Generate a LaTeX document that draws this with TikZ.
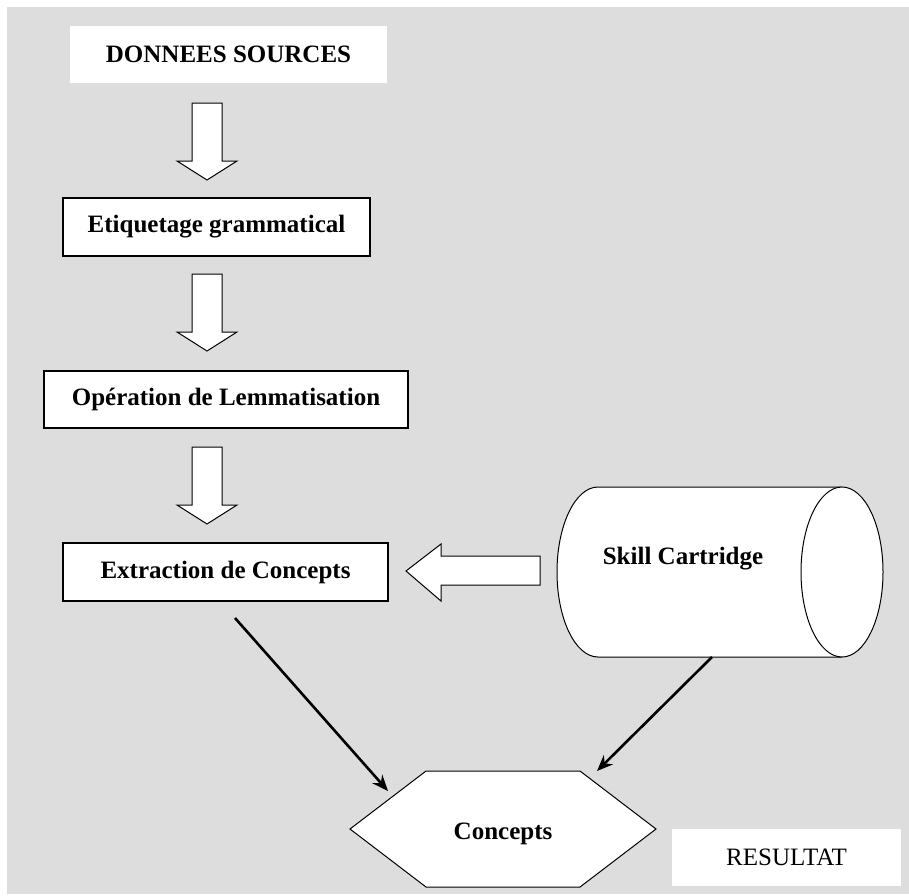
\documentclass[tikz,border=0pt]{standalone}
\usepackage{fontspec}
\setmainfont{Liberation Serif}
\usetikzlibrary{arrows.meta}
\begin{document}
\begin{tikzpicture}[x=1pt,y=-1pt,
  every node/.style={font=\fontsize{25}{30}\selectfont\bfseries, inner sep=0pt},
  stepbox/.style={draw=black, line width=1.2pt, fill=white},
  plainbox/.style={fill=white},
  blockarrow/.style={draw=black, line width=1pt, fill=white, line join=miter},
  flow/.style={line width=2.6pt, -{Stealth[length=16pt,width=13pt]}},
  blockdown/.pic={\draw[blockarrow] (-15,0) -- (-15,58) -- (-30,58) -- (0,77)
      -- (30,58) -- (15,58) -- (15,0) -- cycle;}]
\useasboundingbox (0,0) rectangle (909,895);
% backdrop
\fill[fill={rgb,255:red,221;green,221;blue,221}] (7,7) rectangle (909,894);

% processing chain
\node[plainbox, minimum width=317pt, minimum height=57pt] (src) at (228.5,54.5) {DONNEES SOURCES};
\node[stepbox, minimum width=307pt, minimum height=58pt] (etiq) at (216.5,227) {Etiquetage grammatical};
\node[stepbox, minimum width=364pt, minimum height=57pt] (lemma) at (226,399.5) {Opération de Lemmatisation};
\node[stepbox, minimum width=325pt, minimum height=58pt] (extr) at (225.5,572) {Extraction de Concepts};

\pic at (207,103) {blockdown};
\pic at (207,274) {blockdown};
\pic at (207,447) {blockdown};

% knowledge base cylinder
\draw[fill=white, line width=1pt] (842,487) -- (598,487)
  arc[start angle=-90, end angle=-270, x radius=41, y radius=85] -- (842,657);
\draw[fill=white, line width=1pt] (842,572) ellipse [x radius=41, y radius=85];
\node (skill) at (683,559) {Skill Cartridge};
\coordinate (skillbase) at (712,657);

% block arrow from the cartridge to the extraction step
\draw[blockarrow] (540,556) -- (441,556) -- (441,544) -- (406,571)
  -- (441,601) -- (441,585) -- (540,585) -- cycle;

% result hexagon
\coordinate (h1) at (426,771);
\coordinate (h2) at (580,771);
\coordinate (h3) at (656,829);
\coordinate (h4) at (580,887);
\coordinate (h5) at (426,887);
\coordinate (h6) at (350,829);
\draw[fill=white, line width=1pt] (h1) -- (h2) -- (h3) -- (h4) -- (h5) -- (h6) -- cycle;
\node (concepts) at (503,834) {Concepts};
\coordinate (inleft) at (388,791);
\coordinate (inright) at (597,771);
\coordinate (extrout) at (235,618);

\draw[flow] (extrout) -- (inleft);
\draw[flow] (skillbase) -- (inright);

\node[plainbox, minimum width=229pt, minimum height=57pt, font=\fontsize{25}{30}\selectfont] (res) at (786.5,857.5) {RESULTAT};
\end{tikzpicture}
\end{document}
